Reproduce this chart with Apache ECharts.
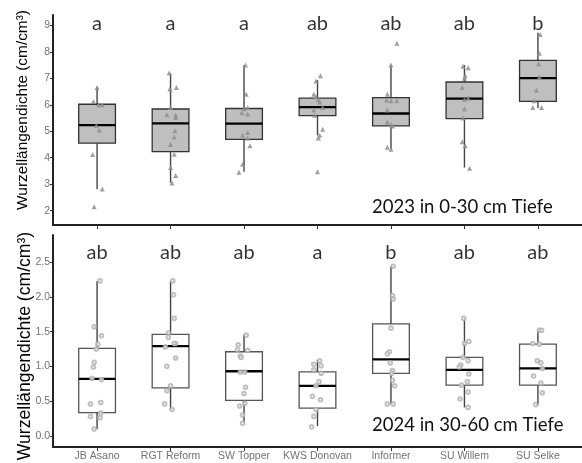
<!DOCTYPE html>
<html><head><meta charset="utf-8">
<script src="https://cdn.jsdelivr.net/npm/echarts@6/dist/echarts.min.js"></script>
<style>html,body{margin:0;padding:0;background:#fff}#c{width:582px;height:463px}</style>
</head><body><div id="c"></div>
<script>
// ---- data ----
const categories = ['JB Asano','RGT Reform','SW Topper','KWS Donovan','Informer','SU Willem','SU Selke'];
// [min(whisker), Q1, median, Q3, max(whisker)]
const box2023 = [
  [2.81, 4.55, 5.23, 6.02, 6.67],
  [3.06, 4.23, 5.30, 5.84, 7.19],
  [3.47, 4.69, 5.29, 5.86, 7.49],
  [4.84, 5.59, 5.91, 6.25, 6.93],
  [4.32, 5.20, 5.67, 6.27, 7.50],
  [3.63, 5.48, 6.23, 6.86, 7.50],
  [5.88, 6.13, 7.01, 7.68, 8.72]
];
const box2024 = [
  [0.10, 0.335, 0.82, 1.26, 2.23],
  [0.38, 0.69, 1.29, 1.46, 2.23],
  [0.18, 0.51, 0.93, 1.21, 1.46],
  [0.14, 0.40, 0.72, 0.92, 1.09],
  [0.46, 0.90, 1.10, 1.61, 2.44],
  [0.41, 0.73, 0.95, 1.13, 1.69],
  [0.44, 0.73, 0.97, 1.32, 1.52]
];
const letters2023 = ['a','a','a','ab','ab','ab','b'];
const letters2024 = ['ab','ab','ab','a','b','ab','ab'];
// individual observations: [group index, jitter (category units), value]
const pts2023 = [
  [0,0,6.65],[0,-0.05,6.12],[0,0.07,6.0],[0,0.02,6.0],[0,-0.01,5.22],[0,0.03,5.05],[0,-0.06,4.12],[0,0.07,2.82],[0,-0.04,2.15],
  [1,-0.02,7.2],[1,0.08,6.65],[1,-0.01,6.6],[1,0,5.9],[1,-0.05,5.62],[1,0.07,5.6],[1,0.07,5.52],[1,0.06,5.02],[1,0.05,4.78],[1,0,4.5],[1,0.05,4.13],[1,0,3.63],[1,0.07,3.33],[1,0.02,3.05],
  [2,0.02,7.5],[2,0.03,6.4],[2,0.05,5.9],[2,0,5.85],[2,-0.03,5.7],[2,0.05,5.65],[2,0.05,4.95],[2,-0.02,4.85],[2,0.05,4.75],[2,0.08,4.45],[2,-0.02,3.75],[2,-0.07,3.45],
  [3,0.04,7.1],[3,-0.02,6.9],[3,-0.05,6.4],[3,-0.02,6.3],[3,0.01,6.2],[3,0.03,6.1],[3,0.07,5.9],[3,-0.05,5.8],[3,-0.04,5.6],[3,0.07,5.08],[3,0.03,4.85],[3,0.01,4.75],[3,0,3.47],
  [4,0.08,8.32],[4,0,7.5],[4,-0.05,6.4],[4,-0.06,6.18],[4,0,6.15],[4,0.08,6.15],[4,-0.05,5.8],[4,-0.05,5.35],[4,0,5.25],[4,0.02,5.2],[4,-0.05,4.4],[4,0,4.32],
  [5,-0.02,7.45],[5,0.05,7.4],[5,0.01,7.1],[5,0,7.0],[5,-0.03,6.65],[5,0.05,6.25],[5,0,6.2],[5,0,5.85],[5,-0.02,5.5],[5,-0.03,4.6],[5,0.01,4.45],[5,0.07,3.6],
  [6,0.03,8.65],[6,0.02,7.95],[6,0.01,7.55],[6,0.02,7.05],[6,-0.02,6.55],[6,-0.05,6.15],[6,-0.07,5.9],[6,0.05,5.9]
];
const pts2024 = [
  [0,0.04,2.23],[0,-0.04,1.57],[0,0.06,1.44],[0,0.01,1.32],[0,-0.01,1.25],[0,-0.04,1.06],[0,-0.05,0.99],[0,-0.07,0.83],[0,0.06,0.81],[0,0.05,0.48],[0,-0.09,0.46],[0,0.05,0.33],[0,-0.09,0.28],[0,0.04,0.26],[0,-0.04,0.10],
  [1,0.03,2.23],[1,0.04,2.03],[1,0.05,1.69],[1,-0.03,1.48],[1,-0.03,1.42],[1,0.07,1.33],[1,0.05,1.33],[1,-0.07,1.28],[1,0.07,1.12],[1,-0.05,1.0],[1,0,0.72],[1,-0.05,0.65],[1,-0.08,0.46],[1,0.02,0.38],
  [2,0.03,1.45],[2,-0.08,1.31],[2,-0.09,1.24],[2,0.05,1.23],[2,-0.05,1.15],[2,-0.04,1.13],[2,-0.05,0.92],[2,0.01,0.92],[2,0.02,0.70],[2,0,0.61],[2,0.01,0.47],[2,-0.06,0.43],[2,-0.02,0.30],[2,-0.02,0.18],
  [3,0.03,1.08],[3,-0.05,1.03],[3,0.05,1.01],[3,-0.05,0.95],[3,0.05,0.90],[3,0.02,0.78],[3,-0.02,0.72],[3,-0.07,0.57],[3,0.04,0.52],[3,-0.02,0.38],[3,-0.05,0.28],[3,-0.08,0.13],
  [4,0.03,2.44],[4,0.02,2.02],[4,0.03,1.97],[4,0,1.55],[4,-0.02,1.21],[4,-0.05,1.18],[4,-0.01,1.05],[4,0.02,0.94],[4,0.01,0.90],[4,0.02,0.80],[4,0.05,0.72],[4,-0.05,0.46],[4,0.03,0.46],
  [5,-0.01,1.69],[5,0.06,1.36],[5,0,1.33],[5,-0.02,1.13],[5,0.05,1.08],[5,-0.05,1.02],[5,-0.07,0.99],[5,0.06,0.89],[5,0.04,0.78],[5,-0.04,0.73],[5,0.05,0.63],[5,-0.06,0.53],[5,0.05,0.41],
  [6,0.02,1.52],[6,0.05,1.52],[6,-0.07,1.33],[6,0.02,1.32],[6,-0.01,1.08],[6,0.04,1.05],[6,0.06,0.97],[6,-0.06,0.86],[6,0.04,0.76],[6,0.06,0.62],[6,-0.03,0.45]
];
const ticks2023 = [2,3,4,5,6,7,8,9];
const ticks2024 = [0,0.5,1,1.5,2,2.5];
const yName = 'Wurzellängendichte (cm/cm³)';
const note2023 = '2023 in 0-30 cm Tiefe';
const note2024 = '2024 in 30-60 cm Tiefe';

// ---- chart ----
const catPos = categories.map((c, i) => i + 1);
const BOX_W = 0.5;

function makeBoxRender(fill, stroke, whisker) {
  return function (params, api) {
    const x = api.value(0);
    const lo = api.coord([x, api.value(1)]);
    const q1 = api.coord([x, api.value(2)]);
    const md = api.coord([x, api.value(3)]);
    const q3 = api.coord([x, api.value(4)]);
    const hi = api.coord([x, api.value(5)]);
    const hw = api.size([BOX_W, 0])[0] / 2;
    return {
      type: 'group',
      children: [
        { type: 'line', shape: { x1: hi[0], y1: hi[1], x2: q3[0], y2: q3[1] }, style: { stroke: whisker, lineWidth: 1.4 } },
        { type: 'line', shape: { x1: lo[0], y1: lo[1], x2: q1[0], y2: q1[1] }, style: { stroke: whisker, lineWidth: 1.4 } },
        { type: 'rect', shape: { x: q3[0] - hw, y: q3[1], width: 2 * hw, height: q1[1] - q3[1] }, style: { fill: fill, stroke: stroke, lineWidth: 1.3 } },
        { type: 'line', shape: { x1: md[0] - hw, y1: md[1], x2: md[0] + hw, y2: md[1] }, style: { stroke: '#000', lineWidth: 2.3 } }
      ]
    };
  };
}

function xAxisDef(grid, showLabels) {
  return {
    type: 'value', gridIndex: grid, min: 0.4, max: 7.6,
    axisLine: { show: true, onZero: false, lineStyle: { color: '#222', width: 2 } },
    axisTick: { show: true, customValues: catPos, length: 4, lineStyle: { color: '#333', width: 1 } },
    axisLabel: showLabels ? {
      show: true, customValues: catPos, margin: 4,
      formatter: v => categories[Math.round(v) - 1],
      color: '#737373', fontSize: 10.5, fontFamily: 'Liberation Sans'
    } : { show: false },
    splitLine: { show: false }
  };
}
function yAxisDef(grid, min, max, ticks, dec) {
  return {
    type: 'value', gridIndex: grid, min: min, max: max,
    axisLine: { show: true, onZero: false, lineStyle: { color: '#222', width: 2 } },
    axisTick: { show: true, customValues: ticks, length: 3, lineStyle: { color: '#333', width: 1 } },
    axisLabel: { show: true, customValues: ticks, margin: 3, formatter: v => Number(v).toFixed(dec),
      color: '#737373', fontSize: 10.5, fontFamily: 'Liberation Sans' },
    splitLine: { show: false }
  };
}

const chart = echarts.init(document.getElementById('c'), null, { renderer: 'canvas' });
chart.setOption({
  animation: false,
  backgroundColor: '#fff',
  grid: [
    { left: 53, top: 15, width: 534, height: 210 },
    { left: 53, top: 235, width: 534, height: 212 }
  ],
  xAxis: [xAxisDef(0, false), xAxisDef(1, true)],
  yAxis: [yAxisDef(0, 1.46, 9.39, ticks2023, 0), yAxisDef(1, -0.16, 2.89, ticks2024, 1)],
  graphic: [
    { type: 'text', x: 23, y: 110, rotation: Math.PI / 2,
      style: { text: yName, font: '15.4px "Liberation Sans"', fill: '#000', align: 'center', verticalAlign: 'middle' } },
    { type: 'text', x: 25, y: 346, rotation: Math.PI / 2,
      style: { text: yName, font: '17.6px "Liberation Sans"', fill: '#000', align: 'center', verticalAlign: 'middle' } },
    { type: 'text', x: 372, y: 207,
      style: { text: note2023, font: '18.5px Lato', fill: '#111', align: 'left', verticalAlign: 'middle' } },
    { type: 'text', x: 372, y: 425,
      style: { text: note2024, font: '18.5px Lato', fill: '#111', align: 'left', verticalAlign: 'middle' } }
  ],
  series: [
    { type: 'custom', xAxisIndex: 0, yAxisIndex: 0, renderItem: makeBoxRender('#bfbfbf', '#333', '#444'),
      encode: { x: 0, y: [1, 2, 3, 4, 5] }, data: box2023.map((b, i) => [catPos[i]].concat(b)) },
    { type: 'custom', xAxisIndex: 1, yAxisIndex: 1, renderItem: makeBoxRender('#ffffff', '#555', '#444'),
      encode: { x: 0, y: [1, 2, 3, 4, 5] }, data: box2024.map((b, i) => [catPos[i]].concat(b)) },
    { type: 'scatter', xAxisIndex: 0, yAxisIndex: 0, symbol: 'triangle', symbolSize: 5,
      itemStyle: { color: '#8f8f8f', opacity: 0.85 },
      data: pts2023.map(p => [catPos[p[0]] + p[1], p[2]]) },
    { type: 'scatter', xAxisIndex: 1, yAxisIndex: 1, symbol: 'emptyCircle', symbolSize: 3.6,
      itemStyle: { color: '#b0b0b0', borderWidth: 0.7 },
      data: pts2024.map(p => [catPos[p[0]] + p[1], p[2]]) },
    { type: 'scatter', xAxisIndex: 0, yAxisIndex: 0, symbolSize: 0, silent: true,
      label: { show: true, position: 'inside', formatter: p => letters2023[p.dataIndex],
        fontFamily: 'Lato', fontSize: 20, color: '#000' },
      data: catPos.map(x => [x, 9.08]) },
    { type: 'scatter', xAxisIndex: 1, yAxisIndex: 1, symbolSize: 0, silent: true,
      label: { show: true, position: 'inside', formatter: p => letters2024[p.dataIndex],
        fontFamily: 'Lato', fontSize: 20, color: '#000' },
      data: catPos.map(x => [x, 2.64]) }
  ]
});
</script>
</body></html>
